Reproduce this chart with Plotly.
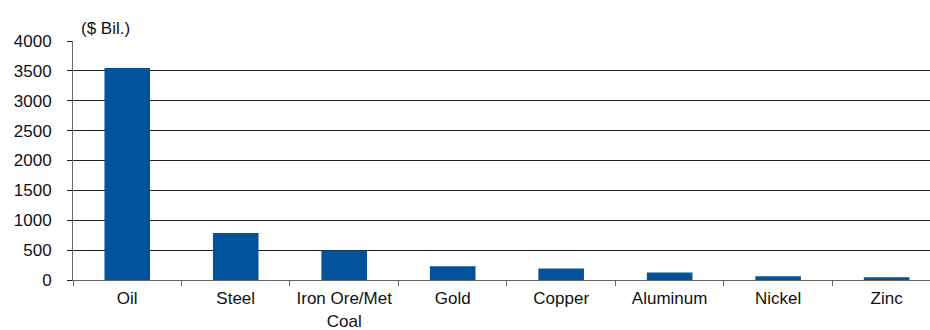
import plotly.graph_objects as go

categories = ["Oil", "Steel", "Iron Ore/Met<br>Coal", "Gold", "Copper", "Aluminum", "Nickel", "Zinc"]
values = [3550, 785, 492, 229, 191, 124, 62, 46]
y_ticks = [0, 500, 1000, 1500, 2000, 2500, 3000, 3500, 4000]
unit_label = "($ Bil.)"

fig = go.Figure()
fig.add_trace(go.Bar(
    x=categories, y=values,
    marker=dict(color="#02529C", line=dict(width=0)),
    width=0.42,
))

font_family = "Liberation Sans, Arial, sans-serif"
fig.update_layout(
    width=930, height=330,
    margin=dict(l=73, r=0, t=41, b=50),
    plot_bgcolor="white", paper_bgcolor="white",
    font=dict(family=font_family, size=17, color="#111111"),
    showlegend=False,
    xaxis=dict(
        type="category",
        range=[-0.5, 7.40],
        showgrid=False,
        showline=True, linecolor="#666666", linewidth=1,
        ticks="outside", tickson="boundaries", ticklen=5, tickcolor="#666666",
        ticklabelstandoff=3,
        tickangle=0,
        tickfont=dict(size=17),
        automargin=False,
    ),
    yaxis=dict(
        range=[0, 4000],
        tickvals=y_ticks,
        showgrid=True, gridcolor="#222222", gridwidth=1,
        zeroline=False,
        showline=True, linecolor="#666666", linewidth=1,
        ticks="outside", ticklen=5, tickcolor="#222222",
        ticklabelstandoff=12,
        tickfont=dict(size=17),
        automargin=False,
    ),
    annotations=[dict(
        text=unit_label, xref="paper", yref="paper",
        x=0.0, y=1.0, xanchor="left", yanchor="bottom",
        xshift=6, yshift=1, showarrow=False,
        font=dict(size=17),
    )],
)

fig.write_html("out.html")
